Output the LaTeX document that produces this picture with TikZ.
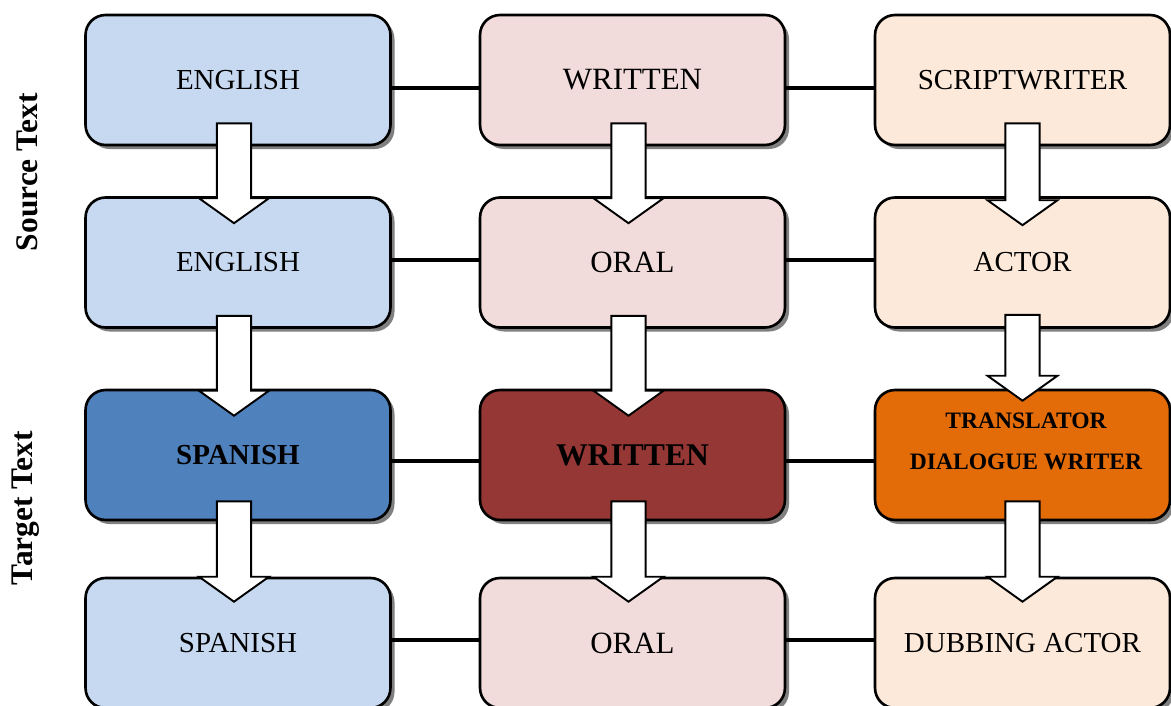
\documentclass[tikz,border=0pt]{standalone}
\usepackage{fontspec}
\setmainfont{Liberation Serif}
\usetikzlibrary{shadows,calc}

\definecolor{paleblue}{HTML}{C6D9F1}
\definecolor{palerose}{HTML}{F2DCDB}
\definecolor{palepeach}{HTML}{FDE9D9}
\definecolor{deepblue}{HTML}{4F81BD}
\definecolor{deepred}{HTML}{953735}
\definecolor{deeporange}{HTML}{E36C09}

% hollow downward block arrow from #1 (top of shaft) to #2 (tip)
\newcommand{\blockarrow}[2]{%
  \draw[blockarrow] let \p1=(#1), \p2=(#2) in
    (\x1-9.7pt,\y1) -- (\x1+9.7pt,\y1) -- (\x1+9.7pt,\y2+14.2pt)
    -- (\x1+19.9pt,\y2+14.2pt) -- (\x1,\y2) -- (\x1-19.9pt,\y2+14.2pt)
    -- (\x1-9.7pt,\y2+14.2pt) -- cycle;}

\begin{document}
\begin{tikzpicture}[x=0.02cm, y=-0.02cm,
    box/.style={draw=black, line width=1.5pt, rounded corners=0.4cm,
        minimum width=6.1cm, minimum height=2.6cm, inner sep=0pt, align=center,
        drop shadow={shadow xshift=2.3pt, shadow yshift=-2.3pt, fill=black!50, opacity=1}},
    narrowbox/.style={box, minimum width=5.9cm},
    txt/.style={font=\fontsize{16.5}{20}\selectfont},
    bigtxt/.style={font=\fontsize{17.6}{21}\selectfont},
    link/.style={draw=black, line width=2.3pt},
    blockarrow/.style={draw=black, fill=white, line width=1.1pt, line join=miter}]

    \clip (0,0) rectangle (1171,706);

    % language column
    \node[box, fill=paleblue, txt] (L1) at (238, 80) {ENGLISH};
    \node[box, fill=paleblue, txt] (L2) at (238, 262.5) {ENGLISH};
    \node[box, fill=deepblue, txt, font=\fontsize{16.5}{20}\selectfont\bfseries] (L3) at (238, 455) {SPANISH};
    \node[box, fill=paleblue, txt] (L4) at (238, 643) {SPANISH};

    % mode column
    \node[box, fill=palerose, bigtxt] (M1) at (632.5, 80) {WRITTEN};
    \node[box, fill=palerose, bigtxt] (M2) at (632.5, 262.5) {ORAL};
    \node[box, fill=deepred, font=\fontsize{18}{21}\selectfont\bfseries] (M3) at (632.5, 455) {WRITTEN};
    \node[box, fill=palerose, bigtxt] (M4) at (632.5, 643) {ORAL};

    % agent column
    \node[narrowbox, fill=palepeach, txt] (A1) at (1022.5, 80) {SCRIPTWRITER};
    \node[narrowbox, fill=palepeach, txt] (A2) at (1022.5, 262.5) {ACTOR};
    \node[narrowbox, fill=deeporange] (A3) at (1022.5, 455) {};
    \node[align=center, font=\fontsize{13.4}{23.3}\selectfont\bfseries]
        (A3text) at ([xshift=0.07cm, yshift=0.28cm]A3.center) {TRANSLATOR\\DIALOGUE WRITER};
    \node[narrowbox, fill=palepeach, txt] (A4) at (1022.5, 643) {DUBBING ACTOR};

    % side labels
    \node[rotate=90, font=\fontsize{17.9}{20}\selectfont\bfseries] (src) at (27, 172) {Source Text};
    \node[rotate=90, font=\fontsize{17.9}{20}\selectfont\bfseries] (tgt) at (26, 508) {Target Text};

    % row links
    \draw[link] ([yshift=-0.16cm]L1.east) -- ([yshift=-0.16cm]M1.west);
    \draw[link] ([yshift=-0.16cm]M1.east) -- ([yshift=-0.16cm]A1.west);
    \draw[link] ([yshift=0.05cm]L2.east) -- ([yshift=0.05cm]M2.west);
    \draw[link] ([yshift=0.05cm]M2.east) -- ([yshift=0.05cm]A2.west);
    \draw[link] ([yshift=-0.12cm]L3.east) -- ([yshift=-0.12cm]M3.west);
    \draw[link] ([yshift=-0.12cm]M3.east) -- ([yshift=-0.12cm]A3.west);
    \draw[link] ([yshift=0.06cm]L4.east) -- ([yshift=0.06cm]M4.west);
    \draw[link] ([yshift=0.06cm]M4.east) -- ([yshift=0.06cm]A4.west);

    % downward arrows
    \blockarrow{[xshift=-0.08cm, yshift=0.46cm]L1.south}{[yshift=-0.54cm]L2.north}
    \blockarrow{[xshift=-0.08cm, yshift=0.26cm]L2.south}{[yshift=-0.54cm]L3.north}
    \blockarrow{[xshift=-0.08cm, yshift=0.4cm]L3.south}{[yshift=-0.5cm]L4.north}

    \blockarrow{[xshift=-0.08cm, yshift=0.46cm]M1.south}{[yshift=-0.54cm]M2.north}
    \blockarrow{[xshift=-0.08cm, yshift=0.26cm]M2.south}{[yshift=-0.54cm]M3.north}
    \blockarrow{[xshift=-0.08cm, yshift=0.4cm]M3.south}{[yshift=-0.5cm]M4.north}

    \blockarrow{[yshift=0.46cm]A1.south}{[yshift=-0.58cm]A2.north}
    \blockarrow{[yshift=0.28cm]A2.south}{[yshift=-0.24cm]A3.north}
    \blockarrow{[yshift=0.4cm]A3.south}{[yshift=-0.5cm]A4.north}
\end{tikzpicture}
\end{document}
